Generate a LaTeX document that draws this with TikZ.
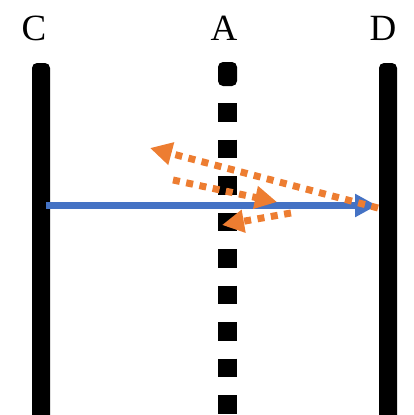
\documentclass[tikz,border=0pt]{standalone}
\usepackage{fontspec}
\setmainfont{Liberation Serif}
\usetikzlibrary{arrows.meta}
\definecolor{ablue}{HTML}{4472C4}
\definecolor{aorange}{HTML}{ED7D31}
\tikzset{
  lbl/.style={font=\fontsize{37}{37}\selectfont, inner sep=0pt, anchor=base},
  bar/.style={fill=black, rounded corners=5pt},
  ray/.style={ablue, line width=7pt, -{Triangle[length=22pt,width=22pt]}},
  refl/.style={aorange, line width=7pt, dash pattern=on 7pt off 6.5pt, -{Triangle[length=22pt,width=22pt]}}
}
\begin{document}
\begin{tikzpicture}[x=1pt,y=-1pt]
\useasboundingbox (0,0) rectangle (413,415);
% labels
\node[lbl] (lc) at (34,40) {C};
\node[lbl] (la) at (224,40) {A};
\node[lbl] (ld) at (383,40) {D};
% solid walls
\fill[bar] (32,63) rectangle (50,425);
\fill[bar] (379,63) rectangle (397,425);
% dashed wall A
\fill[bar] (218,62) rectangle (237,86);
\draw[line width=19pt, dash pattern=on 18.5pt off 18pt] (227.5,103) -- (227.5,420);
% coordinates
\coordinate (s) at (46,205.5);
\coordinate (d) at (377,205.5);
\coordinate (r1s) at (378,208);
\coordinate (r1e) at (150,148);
\coordinate (r2s) at (173,180);
\coordinate (r2e) at (277,202);
\coordinate (r3s) at (291,213);
\coordinate (r3e) at (222,225);
% rays
\draw[ray] (s) -- (d);
\draw[refl] (r1s) -- (r1e);
\draw[refl] (r2s) -- (r2e);
\draw[refl] (r3s) -- (r3e);
\end{tikzpicture}
\end{document}
